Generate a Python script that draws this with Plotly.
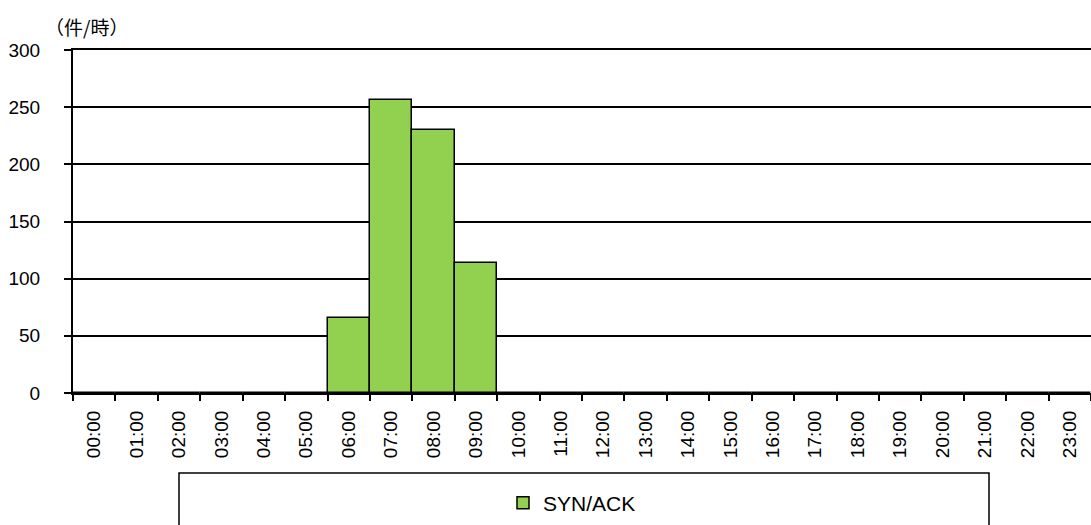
import plotly.graph_objects as go

hours = [f"{h:02d}:00" for h in range(24)]
syn_ack = [0, 0, 0, 0, 0, 0, 66, 256, 230, 114, 0, 0, 0, 0, 0, 0, 0, 0, 0, 0, 0, 0, 0, 0]
y_ticks = [0, 50, 100, 150, 200, 250, 300]
series_name = "SYN/ACK"
unit_label = "（件/時）"

W, H = 1091, 525
L, R, T, B = 73, 0, 50, 132
pw, ph = W - L - R, H - T - B

def px_x(p):
    return (p - L) / pw

def px_y(p):
    return (H - B - p) / ph

fig = go.Figure()
fig.add_trace(go.Bar(
    x=hours, y=syn_ack, name=series_name,
    marker=dict(color="#92D050", line=dict(color="black", width=1.5)),
))

fig.update_layout(
    width=W, height=H,
    margin=dict(l=L, r=R, t=T, b=B),
    paper_bgcolor="white", plot_bgcolor="white",
    bargap=0,
    font=dict(family="Liberation Sans, Arial, sans-serif", size=19, color="black"),
    showlegend=True,
    legend=dict(
        x=px_x(572), y=px_y(503), xanchor="center", yanchor="middle",
        bgcolor="rgba(0,0,0,0)", borderwidth=0,
        font=dict(size=21, family="Liberation Sans, Arial, sans-serif"),
        itemwidth=30,
    ),
    xaxis=dict(
        type="category", categoryorder="array", categoryarray=hours,
        range=[-0.5, 23.5],
        showline=True, linecolor="black", linewidth=2, mirror=True,
        ticks="outside", ticklen=6, tickwidth=1.5, tickcolor="black",
        tickson="boundaries",
        tickangle=-90, showgrid=False,
        tickfont=dict(size=19),
        ticklabelstandoff=8,
    ),
    yaxis=dict(
        range=[0, 300], tickvals=y_ticks,
        showline=True, linecolor="black", linewidth=2,
        ticks="outside", ticklen=7, tickwidth=1.5, tickcolor="black",
        showgrid=True, gridcolor="black", gridwidth=1.5,
        zeroline=False,
        tickfont=dict(size=19),
        ticklabelstandoff=20,
    ),
    shapes=[dict(
        type="rect", xref="paper", yref="paper",
        x0=px_x(179), x1=px_x(989), y0=px_y(473), y1=px_y(540),
        line=dict(color="black", width=1.5), fillcolor="rgba(0,0,0,0)",
    )],
    annotations=[dict(
        text=unit_label, xref="paper", yref="paper",
        x=px_x(43), y=px_y(27), xanchor="left", yanchor="middle",
        showarrow=False,
        font=dict(family="Noto Sans CJK JP", size=19, color="black"),
    )],
)

fig.write_html("out.html")
